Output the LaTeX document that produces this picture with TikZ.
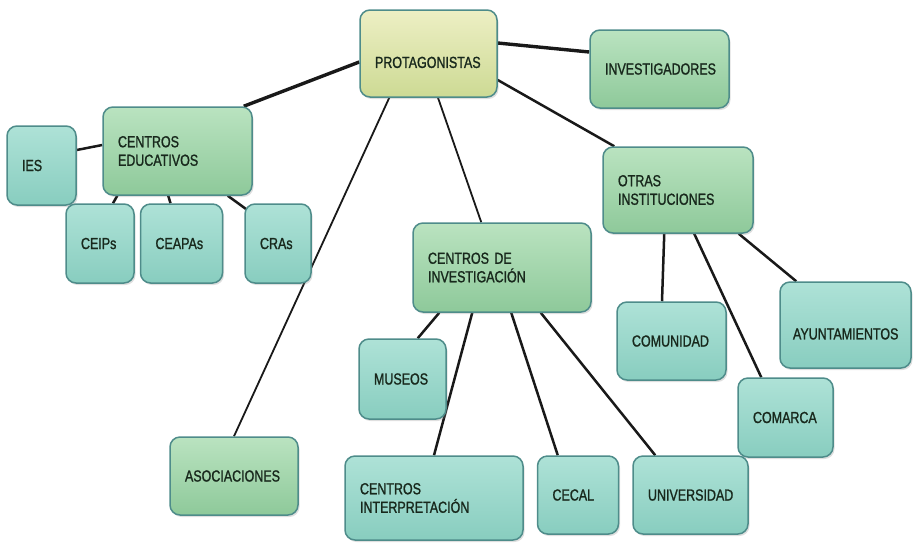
\documentclass[tikz,border=0pt]{standalone}
\usepackage{fontspec}
\setmainfont{Liberation Sans}[FakeStretch=0.78, FakeBold=1.2, WordSpace=0.8]
\usetikzlibrary{positioning, shadows, backgrounds}

\definecolor{boxline}{HTML}{4E8C8A}
\definecolor{aquatop}{HTML}{AEE2D7}
\definecolor{aquabot}{HTML}{88CDBF}
\definecolor{greentop}{HTML}{BAE3C0}
\definecolor{greenbot}{HTML}{8EC99A}
\definecolor{roottop}{HTML}{EDEFC4}
\definecolor{rootbot}{HTML}{CDDA94}
\definecolor{boxtext}{HTML}{18281C}

\tikzset{
	box/.style={draw=boxline, line width=1.5pt, rounded corners=10pt, text=boxtext,
		font=\fontsize{16}{18.5}\selectfont, align=left, inner xsep=15pt,
		drop shadow={shadow xshift=1.5pt, shadow yshift=-2pt, opacity=0.25}},
	leaf/.style={box, top color=aquatop, bottom color=aquabot},
	branch/.style={box, top color=greentop, bottom color=greenbot},
	root/.style={box, top color=roottop, bottom color=rootbot},
	link/.style={draw=black!90, line width=2.5pt},
	heavylink/.style={line width=3.4pt},
	thinlink/.style={line width=1.8pt}
}

\begin{document}
\begin{tikzpicture}[x=1pt, y=-1pt]
	\useasboundingbox (0,0) rectangle (913,542);

	\node[root, text width=107pt, minimum height=87pt, text height=29pt] (prot) at (428.5,53.5) {PROTAGONISTAS};
	\node[branch, text width=109pt, minimum height=78pt] (inv) at (659.5,69) {INVESTIGADORES};

	\node[branch, text width=119pt, minimum height=88pt] (edu) at (177.5,151) {CENTROS\\EDUCATIVOS};
	\node[leaf, text width=39pt, minimum height=79pt] (ies) at (41.5,165.5) {IES};
	\node[leaf, text width=38pt, minimum height=79pt] (ceip) at (100,243.5) {CEIPs};
	\node[leaf, text width=52pt, minimum height=79pt, right=5pt of ceip] (ceapa) {CEAPAs};
	\node[leaf, text width=36pt, minimum height=79pt, right=21pt of ceapa] (cra) {CRAs};

	\node[branch, text width=98pt, minimum height=78pt] (asoc) at (234,476) {ASOCIACIONES};

	\node[branch, text width=148pt, minimum height=89pt] (ci) at (502,267.5) {CENTROS DE\\INVESTIGACIÓN};
	\node[leaf, text width=57pt, minimum height=80pt] (museo) at (402.5,379) {MUSEOS};
	\node[leaf, text width=148pt, minimum height=84pt] (interp) at (434,498) {CENTROS\\INTERPRETACIÓN};
	\node[leaf, text width=51pt, minimum height=78pt, right=13pt of interp.north east, anchor=north west] (cecal) {CECAL};
	\node[leaf, text width=85pt, minimum height=78pt, right=13pt of cecal.north east, anchor=north west] (univ) {UNIVERSIDAD};

	\node[branch, text width=120pt, minimum height=86pt] (otras) at (678,190) {OTRAS\\INSTITUCIONES};
	\node[leaf, text width=79pt, minimum height=78pt] (comun) at (671.5,341) {COMUNIDAD};
	\node[leaf, text width=65pt, minimum height=79pt] (comarca) at (785.5,417.5) {COMARCA};
	\node[leaf, text width=105pt, minimum height=86pt, inner xsep=13pt, text height=29pt] (ayto) at (845.5,325) {AYUNTAMIENTOS};

	\begin{scope}[on background layer]
		\draw[link]
			([yshift=-8.5pt]prot.west) edge[heavylink] ([xshift=-9pt]edu.north east)
			([yshift=10.5pt]prot.east) edge[heavylink] ([yshift=17pt]inv.west)
			([yshift=-26.5pt]prot.east) edge ([xshift=12pt]otras.north west)
			([xshift=30pt]prot.south west) edge[thinlink] (asoc.north)
			([xshift=9.5pt]prot.south) edge[thinlink] ([xshift=69pt]ci.north west)

			([yshift=15.5pt]ies.east) edge ([yshift=6pt]edu.west)
			([xshift=15pt]edu.south west) edge ([xshift=13pt]ceip.north)
			([xshift=66pt]edu.south west) edge ([xshift=-11pt]ceapa.north)
			([xshift=-25pt]edu.south east) edge ([xshift=9pt, yshift=-11pt]cra.north west)

			([xshift=62pt]otras.south west) edge ([xshift=-9.5pt]comun.north)
			([xshift=92pt]otras.south west) edge ([xshift=24pt]comarca.north west)
			([xshift=-15pt]otras.south east) edge ([xshift=17pt]ayto.north west)

			([xshift=27pt]ci.south west) edge ([xshift=-29pt]museo.north east)
			([xshift=60pt]ci.south west) edge (interp.north)
			([xshift=99pt]ci.south west) edge ([xshift=21pt]cecal.north west)
			([xshift=-51pt]ci.south east) edge ([xshift=23pt]univ.north west)
		;
	\end{scope}
\end{tikzpicture}
\end{document}
